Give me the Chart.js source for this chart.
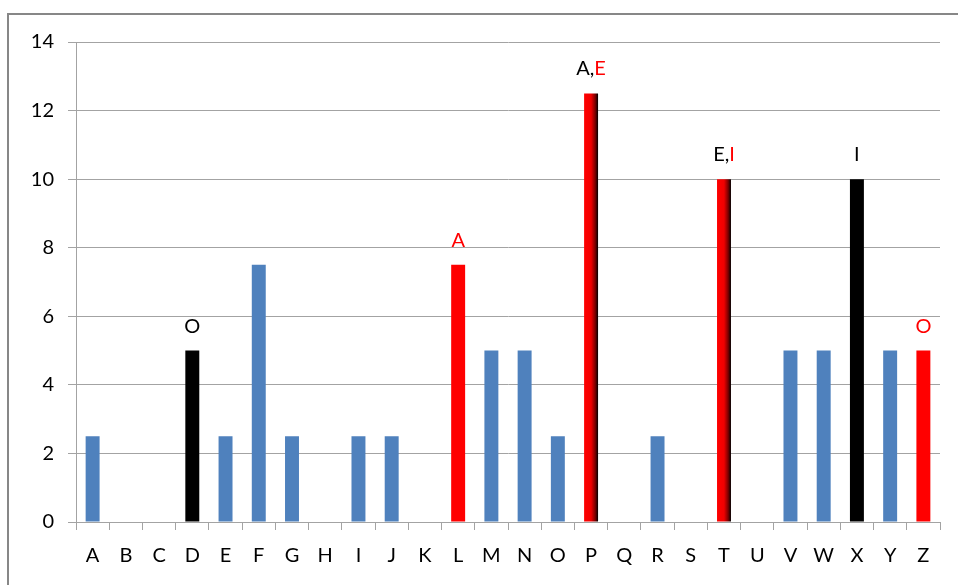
<!DOCTYPE html>
<html>
<head>
<meta charset="utf-8">
<script src="https://cdn.jsdelivr.net/npm/chart.js@4/dist/chart.umd.min.js"></script>
<style>
  html, body { margin: 0; padding: 0; background: #fff; overflow: hidden; }
  #wrap { position: relative; width: 958px; height: 585px; }
  #frame { position: absolute; left: 7px; top: 13px; width: 2000px; height: 2000px;
           border: 2px solid #878787; box-sizing: border-box; }
  #c { position: absolute; left: 0; top: 0; }
</style>
</head>
<body>
<div id="wrap">
  <div id="frame"></div>
  <canvas id="c" width="958" height="585"></canvas>
</div>
<script>
// Letters along the x axis and the bar height for each
const categories = ['A','B','C','D','E','F','G','H','I','J','K','L','M','N','O','P','Q','R','S','T','U','V','W','X','Y','Z'];
const values     = [2.5, 0, 0, 5, 2.5, 7.5, 2.5, 0, 2.5, 2.5, 0, 7.5, 5, 5, 2.5, 12.5, 0, 2.5, 0, 10, 0, 5, 5, 10, 5, 5];
const yTicks     = [0, 2, 4, 6, 8, 10, 12, 14];

const BLUE = '#4f81bd', RED = '#ff0000', BLACK = '#000000';

// Fill per bar; 'fade' means a red-to-black sideways gradient
const barFill = [BLUE, BLUE, BLUE, BLACK, BLUE, BLUE, BLUE, BLUE, BLUE, BLUE, BLUE, RED, BLUE, BLUE, BLUE,
                 'fade', BLUE, BLUE, BLUE, 'fade', BLUE, BLUE, BLUE, BLACK, BLUE, RED];

// Letters written above some bars, as [text, colour] pieces
const notes = {
  D: [['O', BLACK]],
  L: [['A', RED]],
  P: [['A,', BLACK], ['E', RED]],
  T: [['E,', BLACK], ['I', RED]],
  X: [['I', BLACK]],
  Z: [['O', RED]]
};

const FONT = { family: 'Lato, "Open Sans", sans-serif', size: 20 };
const GRID = '#a3a3a3';

// Swap the 'fade' bars to a horizontal gradient spanning each bar's width
const fadeBars = {
  id: 'fadeBars',
  beforeDatasetsDraw(chart) {
    const meta = chart.getDatasetMeta(0);
    const ctx = chart.ctx;
    meta.data.forEach((el, i) => {
      if (barFill[i] !== 'fade') return;
      const x0 = el.x - el.width / 2, x1 = el.x + el.width / 2;
      const g = ctx.createLinearGradient(x0, 0, x1, 0);
      g.addColorStop(0, '#ff0000');
      g.addColorStop(0.5, '#f00000');
      g.addColorStop(0.8, '#7a0000');
      g.addColorStop(1, '#000000');
      el.options.backgroundColor = g;
    });
  }
};

// Coloured letters above the bars
const barNotes = {
  id: 'barNotes',
  afterDatasetsDraw(chart) {
    const meta = chart.getDatasetMeta(0);
    const ctx = chart.ctx;
    ctx.save();
    ctx.font = `${FONT.size}px ${FONT.family}`;
    ctx.textBaseline = 'alphabetic';
    ctx.textAlign = 'left';
    categories.forEach((cat, i) => {
      const parts = notes[cat];
      if (!parts) return;
      const el = meta.data[i];
      const total = parts.reduce((s, p) => s + ctx.measureText(p[0]).width, 0);
      let x = el.x - total / 2;
      const y = el.y - 18;
      parts.forEach(([t, col]) => {
        ctx.fillStyle = col;
        ctx.fillText(t, x, y);
        x += ctx.measureText(t).width;
      });
    });
    ctx.restore();
  }
};

new Chart(document.getElementById('c'), {
  type: 'bar',
  data: {
    labels: categories,
    datasets: [{
      data: values,
      backgroundColor: barFill.map(c => c === 'fade' ? RED : c),
      borderWidth: 0,
      barPercentage: 0.42,
      categoryPercentage: 1
    }]
  },
  options: {
    responsive: false,
    animation: false,
    layout: { padding: { left: 0, right: 18, top: 42, bottom: 0 } },
    plugins: { legend: { display: false }, tooltip: { enabled: false } },
    scales: {
      x: {
        grid: { drawOnChartArea: false, drawTicks: true, tickLength: 8, color: GRID, offset: true },
        border: { color: GRID, width: 1 },
        ticks: { color: '#000', font: FONT, padding: 14, autoSkip: false, maxRotation: 0 },
        afterFit(scale) { scale.height = 63; }
      },
      y: {
        min: 0, max: 14,
        afterBuildTicks(scale) { scale.ticks = yTicks.map(v => ({ value: v })); },
        grid: { color: GRID, tickLength: 8 },
        border: { color: GRID, width: 1 },
        ticks: { color: '#000', font: FONT, padding: 14 },
        afterFit(scale) { scale.width = 76; }
      }
    }
  },
  plugins: [fadeBars, barNotes]
});
</script>
</body>
</html>
